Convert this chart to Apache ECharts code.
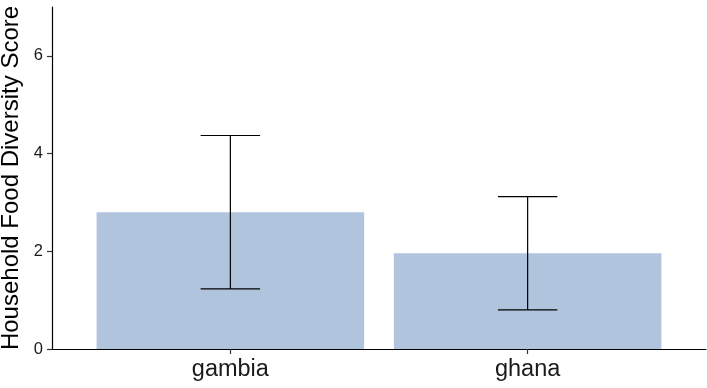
<!DOCTYPE html>
<html>
<head>
<meta charset="utf-8">
<script src="https://cdn.jsdelivr.net/npm/echarts@6/dist/echarts.min.js"></script>
<style>
  html, body { margin: 0; padding: 0; background: #fff; }
  #chart { width: 707px; height: 388px; }
</style>
</head>
<body>
<div id="chart"></div>
<script>
// Household food diversity by country: mean score with error bars
const categories = ['gambia', 'ghana'];
const meanScore = [2.80, 1.96];
const lowerBound = [1.23, 0.80];
const upperBound = [4.37, 3.12];
const yTicks = [0, 2, 4, 6];

// Each category sits at integer position 1, 2 on a continuous x scale
const rows = categories.map((c, i) => [i + 1, meanScore[i], lowerBound[i], upperBound[i]]);

const BAR_HALF = 0.45;   // bar width 0.9 of a category slot
const CAP_HALF = 0.1;    // error-bar cap width 0.2

function renderItem(params, api) {
  const x = api.value(0);
  const m = api.value(1);
  const lo = api.value(2);
  const hi = api.value(3);
  const p0 = api.coord([x - BAR_HALF, m]);
  const p1 = api.coord([x + BAR_HALF, 0]);
  const top = api.coord([x, hi]);
  const bot = api.coord([x, lo]);
  const capL = api.coord([x - CAP_HALF, hi])[0];
  const capR = api.coord([x + CAP_HALF, hi])[0];
  const lineStyle = { stroke: '#000', lineWidth: 1.2 };
  return {
    type: 'group',
    children: [
      {
        type: 'rect',
        shape: { x: p0[0], y: p0[1], width: p1[0] - p0[0], height: p1[1] - p0[1] },
        style: { fill: '#B0C4DE' }
      },
      { type: 'line', shape: { x1: top[0], y1: top[1], x2: bot[0], y2: bot[1] }, style: lineStyle },
      { type: 'line', shape: { x1: capL, y1: top[1], x2: capR, y2: top[1] }, style: lineStyle },
      { type: 'line', shape: { x1: capL, y1: bot[1], x2: capR, y2: bot[1] }, style: lineStyle }
    ]
  };
}

const chart = echarts.init(document.getElementById('chart'), null, { renderer: 'canvas' });
chart.setOption({
  animation: false,
  grid: { left: 52, right: 1, top: 7, bottom: 39, containLabel: false, outerBoundsMode: 'none' },
  xAxis: {
    type: 'value',
    min: 0.4,
    max: 2.6,
    splitLine: { show: false },
    axisLine: { show: true, lineStyle: { color: '#000', width: 1.2 } },
    axisTick: { show: true, length: 5, customValues: [1, 2], lineStyle: { color: '#333', width: 1.2 } },
    axisLabel: {
      customValues: [1, 2],
      formatter: v => categories[Math.round(v) - 1] || '',
      color: '#1a1a1a',
      fontFamily: 'Liberation Sans, Arial, sans-serif',
      fontSize: 23.5,
      margin: 9
    }
  },
  yAxis: {
    type: 'value',
    min: 0,
    max: 7,
    name: 'Household Food Diversity Score',
    nameLocation: 'middle',
    nameGap: 21,
    nameTextStyle: {
      color: '#000',
      fontFamily: 'Liberation Sans, Arial, sans-serif',
      fontSize: 24
    },
    splitLine: { show: false },
    axisLine: { show: true, lineStyle: { color: '#000', width: 1.2 } },
    axisTick: { show: true, length: 5, customValues: yTicks, lineStyle: { color: '#333', width: 1.2 } },
    axisLabel: {
      customValues: yTicks,
      color: '#1a1a1a',
      fontFamily: 'Liberation Sans, Arial, sans-serif',
      fontSize: 16.5,
      margin: 9
    }
  },
  series: [{
    type: 'custom',
    renderItem: renderItem,
    encode: { x: 0, y: [1, 2, 3] },
    data: rows,
    z: 1
  }]
});
</script>
</body>
</html>
